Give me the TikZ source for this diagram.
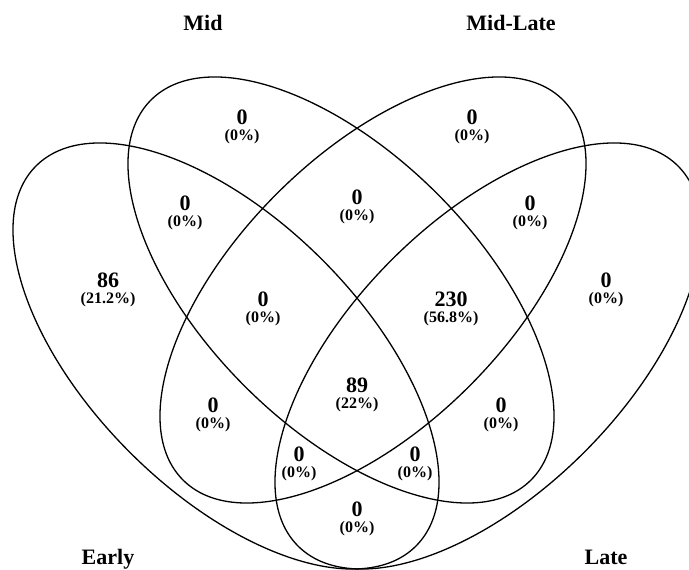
\documentclass[tikz,border=0pt]{standalone}
\usepackage{fontspec}
\setmainfont{Liberation Serif}
\begin{document}
\begin{tikzpicture}[x=1pt,y=1pt,
  setline/.style={line width=1.3pt, black},
  setname/.style={font=\fontsize{22}{24}\selectfont\bfseries, inner sep=0pt, anchor=base},
  count/.style={font=\fontsize{22}{24}\selectfont\bfseries, inner sep=0pt},
  pct/.style={font=\fontsize{16}{18}\selectfont\bfseries, inner sep=0pt}]
\useasboundingbox (0,0) rectangle (689,570);
\fill[white] (0,0) rectangle (689,570);

% the four set ellipses
\begin{scope}
  \clip (0,0) rectangle (689,570);
  \draw[setline, rotate around={-45:(226,214)}] (226,214) ellipse [x radius=268.7, y radius=136.1];
  \draw[setline, rotate around={-45:(341,280)}] (341,280) ellipse [x radius=268.7, y radius=136.1];
  \draw[setline, rotate around={45:(373,280)}] (373,280) ellipse [x radius=268.7, y radius=136.1];
  \draw[setline, rotate around={45:(488,214)}] (488,214) ellipse [x radius=268.7, y radius=136.1];
\end{scope}

% set names
\node[setname] (lblMid)   at (203,539.5) {Mid};
\node[setname] (lblMidLate) at (511,539.5) {Mid-Late};
\node[setname] (lblEarly) at (108,5.5) {Early};
\node[setname] (lblLate)  at (606,5.5) {Late};

% region counts and shares
\node[count] (nB)    at (242,453) {0};    \node[pct] (pB)    at (242,433) {(0\%)};
\node[count] (nC)    at (472,453) {0};    \node[pct] (pC)    at (472,433) {(0\%)};
\node[count] (nAB)   at (185,367) {0};    \node[pct] (pAB)   at (185,347) {(0\%)};
\node[count] (nBC)   at (357,373) {0};    \node[pct] (pBC)   at (357,353) {(0\%)};
\node[count] (nCD)   at (530,367) {0};    \node[pct] (pCD)   at (530,347) {(0\%)};
\node[count] (nA)    at (108,290) {86};   \node[pct] (pA)    at (108,270) {(21.2\%)};
\node[count] (nD)    at (606,290) {0};    \node[pct] (pD)    at (606,270) {(0\%)};
\node[count] (nABC)  at (263,271) {0};    \node[pct] (pABC)  at (263,251) {(0\%)};
\node[count] (nBCD)  at (451,271) {230};  \node[pct] (pBCD)  at (451,251) {(56.8\%)};
\node[count] (nABCD) at (357,185) {89};   \node[pct] (pABCD) at (357,165) {(22\%)};
\node[count] (nAC)   at (213,165) {0};    \node[pct] (pAC)   at (213,145) {(0\%)};
\node[count] (nBD)   at (501,165) {0};    \node[pct] (pBD)   at (501,145) {(0\%)};
\node[count] (nACD)  at (299,116) {0};    \node[pct] (pACD)  at (299,96)  {(0\%)};
\node[count] (nABD)  at (415,116) {0};    \node[pct] (pABD)  at (415,96)  {(0\%)};
\node[count] (nAD)   at (357,61)  {0};    \node[pct] (pAD)   at (357,41)  {(0\%)};
\end{tikzpicture}
\end{document}
